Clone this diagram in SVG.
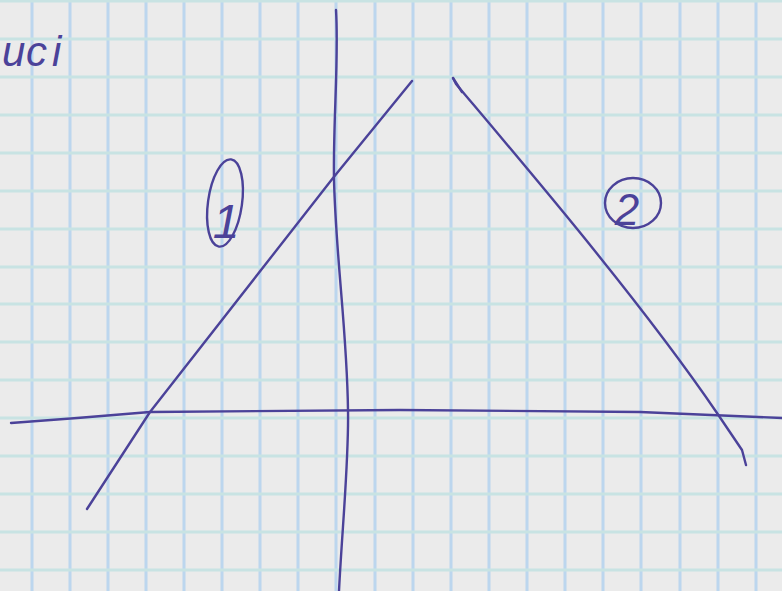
<svg xmlns="http://www.w3.org/2000/svg" width="782" height="591" viewBox="0 0 782 591">
<defs>
<style>
.v{stroke:#bcd6ee;stroke-width:3;fill:none}
.h{stroke:#c8e3e3;stroke-width:3;fill:none}
.pen{stroke:#4b4299;stroke-width:2.4;fill:none;stroke-linecap:round;stroke-linejoin:round}
.lbl{fill:#4b4299;font-family:"Liberation Sans",sans-serif;font-style:italic}
</style>
</defs>
<rect width="782" height="591" fill="#ebebeb"/>
<g id="grid">
<path class="v" d="M32,0V591M70,0V591M108,0V591M146,0V591M184,0V591M222,0V591M260,0V591M298,0V591M336,0V591M375,0V591M413,0V591M451,0V591M489,0V591M527,0V591M565,0V591M603,0V591M641,0V591M680,0V591M718,0V591M756,0V591"/>
<path class="h" d="M0,1H782M0,39H782M0,77H782M0,115H782M0,153H782M0,191H782M0,229H782M0,267H782M0,304H782M0,342H782M0,380H782M0,418H782M0,456H782M0,494H782M0,532H782M0,570H782"/>
</g>
<g id="connectors">
<path id="axis-y" class="pen" d="M336,10 C339,60 333,120 334,180 C336,260 347,330 348,410 C349,460 342,530 339,591"/>
<path id="axis-x" class="pen" d="M11,423 Q80,418 150,412 L400,410 L640,412 L782,418"/>
<path id="line-1" class="pen" d="M87,509 L150,412 L333,178 L412,81"/>
<path id="line-2" class="pen" d="M453,78 L456,84 C520,160 640,300 717,413 L742,450 L746,465"/>
<path class="pen" d="M453,78 L462,92" stroke-width="4"/>
</g>
<g id="label-1">
<ellipse class="pen" cx="225" cy="203" rx="17" ry="44" transform="rotate(8 225 203)"/>
<text class="lbl" x="226" y="238" font-size="48" text-anchor="middle">1</text>
</g>
<g id="label-2">
<ellipse class="pen" cx="633" cy="203" rx="28" ry="25"/>
<text class="lbl" x="627" y="225" font-size="44" text-anchor="middle">2</text>
</g>
<g id="note">
<text class="lbl" y="66" font-size="42"><tspan x="2">u</tspan><tspan x="26">c</tspan><tspan x="52">i</tspan></text>
</g>
</svg>
